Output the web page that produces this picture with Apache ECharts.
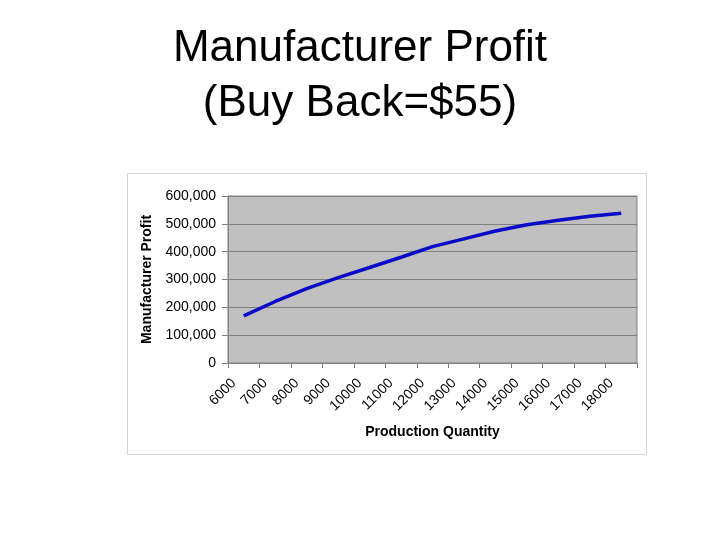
<!DOCTYPE html>
<html>
<head>
<meta charset="utf-8">
<script src="https://cdn.jsdelivr.net/npm/echarts@6/dist/echarts.min.js"></script>
<style>html,body{margin:0;padding:0;background:#fff}#c{width:720px;height:540px}</style>
</head>
<body>
<div id="c"></div>
<script>
var titleLines = ['Manufacturer Profit', '(Buy Back=$55)'];
var quantities = ['6000','7000','8000','9000','10000','11000','12000','13000','14000','15000','16000','17000','18000'];
var profit = [169000, 221000, 267000, 307000, 343000, 380000, 418000, 446000, 474000, 497000, 513000, 527000, 538000];
var yTicks = [0, 100000, 200000, 300000, 400000, 500000, 600000];

var chart = echarts.init(document.getElementById('c'), null, {renderer: 'canvas'});
var font = 'Liberation Sans, Arial, sans-serif';
chart.setOption({
  animation: false,
  backgroundColor: '#ffffff',
  graphic: [
    {type: 'rect', shape: {x: 127.5, y: 173.5, width: 519, height: 281}, style: {fill: 'none', stroke: '#d4d4d4', lineWidth: 1}, z: 0},
    {type: 'text', x: 360, y: 27, style: {text: titleLines[0], font: '44px ' + font, fill: '#000', align: 'center', verticalAlign: 'alphabetic'}},
    {type: 'text', x: 360, y: 82, style: {text: titleLines[1], font: '44px ' + font, fill: '#000', align: 'center', verticalAlign: 'alphabetic'}}
  ],
  grid: {left: 228, top: 196, width: 409, height: 167, show: true, backgroundColor: '#c0c0c0', borderColor: '#808080', borderWidth: 1},
  xAxis: {
    type: 'category', data: quantities, boundaryGap: true,
    name: 'Production Quantity', nameLocation: 'middle', nameGap: 62,
    nameTextStyle: {fontFamily: font, fontSize: 14, fontWeight: 'bold', color: '#000'},
    axisLine: {lineStyle: {color: '#808080', width: 1}},
    axisTick: {show: true, length: 5, alignWithLabel: false, lineStyle: {color: '#808080'}},
    axisLabel: {rotate: 45, fontFamily: font, fontSize: 14, color: '#000', margin: 8, interval: 0, padding: [0, 14, 0, 0]},
    splitLine: {show: false}
  },
  yAxis: {
    type: 'value', min: 0, max: 600000, interval: 100000,
    name: 'Manufacturer Profit', nameLocation: 'middle', nameRotate: 90, nameGap: 70,
    nameTextStyle: {fontFamily: font, fontSize: 14, fontWeight: 'bold', color: '#000'},
    axisLine: {show: true, lineStyle: {color: '#808080', width: 1}},
    axisTick: {show: true, length: 6, lineStyle: {color: '#808080'}},
    axisLabel: {fontFamily: font, fontSize: 14, color: '#000', margin: 12,
      formatter: function (v) { return yTicks.indexOf(v) >= 0 ? v.toLocaleString('en-US') : ''; }},
    splitLine: {show: true, lineStyle: {color: '#808080', width: 1}}
  },
  series: [{
    type: 'line', data: profit, smooth: false, showSymbol: false, symbol: 'none',
    lineStyle: {color: '#0a0ac8', width: 3.5}
  }]
});
</script>
</body>
</html>
